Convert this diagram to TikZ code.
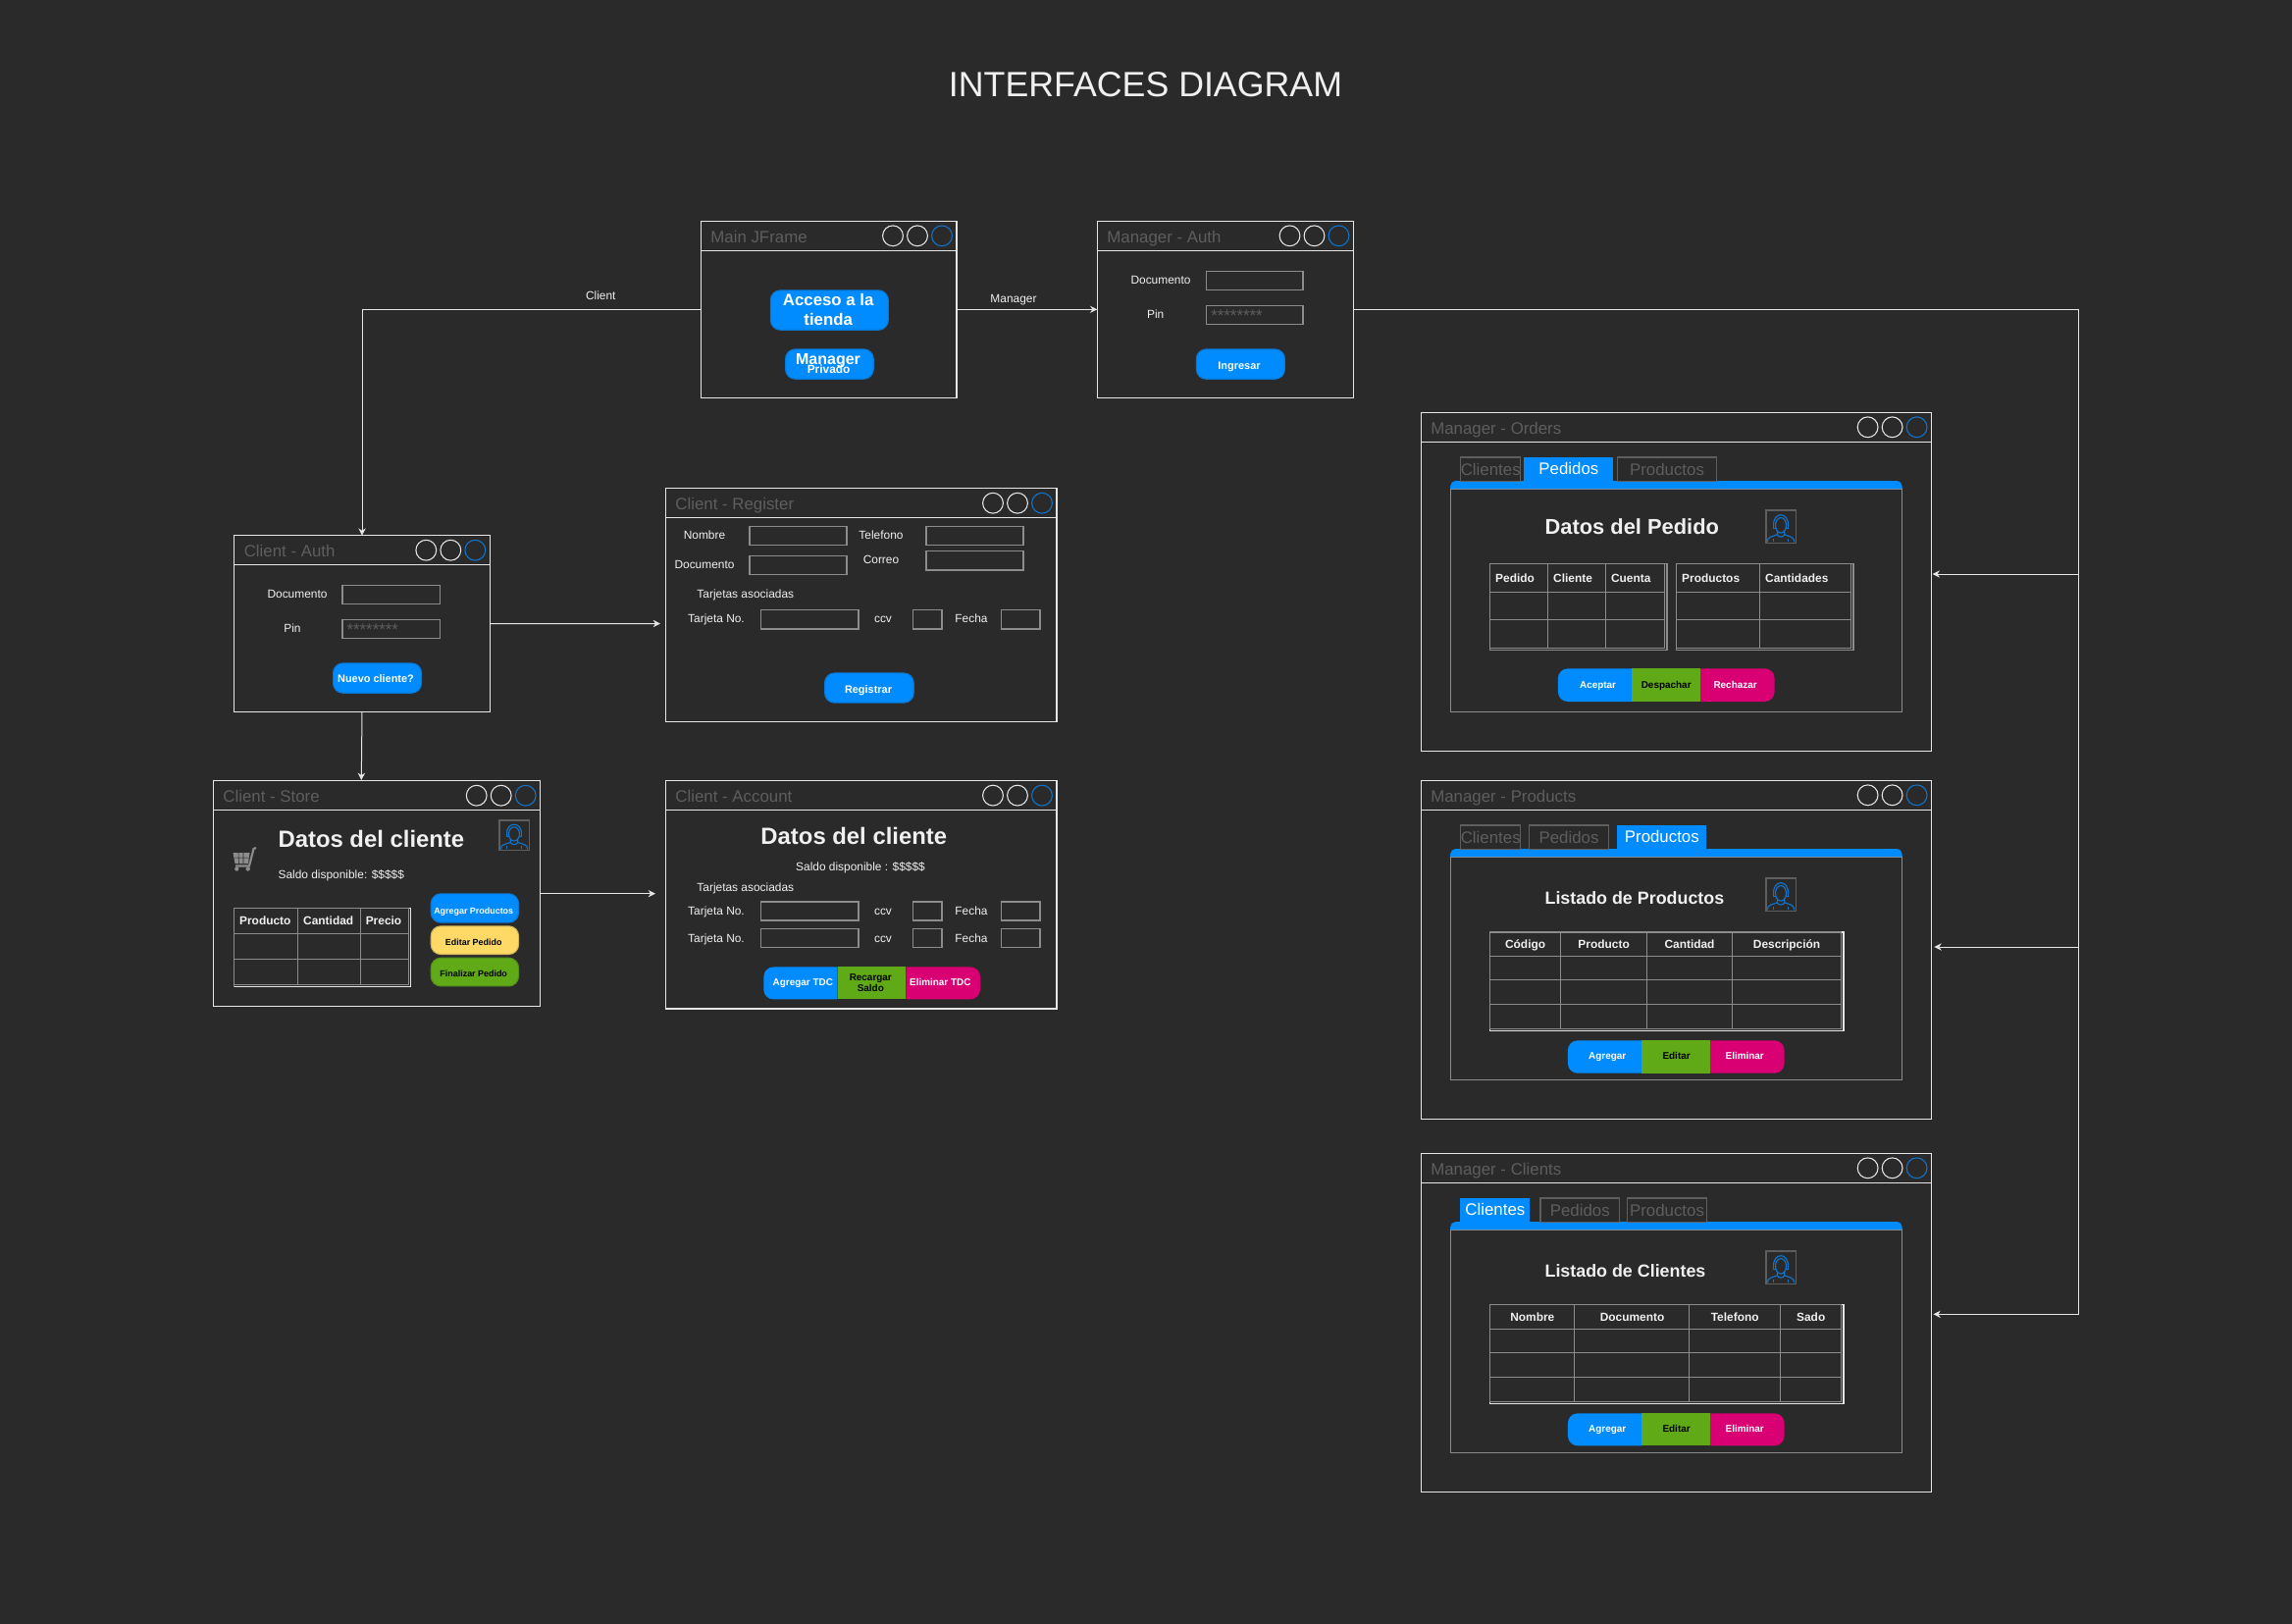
\documentclass[tikz,border=0pt]{standalone}
\usepackage{fontspec}
\setmainfont{Liberation Sans}
\usetikzlibrary{arrows.meta}

\definecolor{canvas}{HTML}{2A2A2A}
\definecolor{framecol}{HTML}{E6E6E6}
\definecolor{inputcol}{HTML}{8C8C8C}
\definecolor{dimcol}{HTML}{5E5E5E}
\definecolor{textcol}{HTML}{F0F0F0}
\definecolor{ringcol}{HTML}{1174CC}
\definecolor{btnblue}{HTML}{008CFF}
\definecolor{btngreen}{HTML}{60A917}
\definecolor{btnpink}{HTML}{D80073}
\definecolor{btnyellow}{HTML}{FFD966}

\newcommand{\fsz}[1]{\fontsize{#1}{#1}\selectfont}

\tikzset{
  sized/.style={anchor=base, inner sep=0pt, yshift=-#1*0.35pt, font=\fsz{#1}},
  sizedwest/.style={anchor=base west, inner sep=0pt, yshift=-#1*0.35pt, font=\fsz{#1}},
  winbox/.style={draw=framecol, line width=1pt, anchor=north west, inner sep=0pt, outer sep=0pt},
  wintitle/.style={sizedwest=12.64, text=dimcol},
  ctrl/.style={circle, draw=framecol, line width=0.8pt, minimum size=15.6pt, inner sep=0pt},
  ringed/.style={draw=ringcol},
  flow/.style={draw=framecol, line width=0.75pt, -{Stealth[length=5.5pt,width=5.5pt]}},
  inputbox/.style={draw=inputcol, line width=0.95pt, anchor=north west, inner sep=0pt, yshift=-0.5pt, minimum width=#1*0.75pt-1pt, minimum height=14.3pt},
  lbl/.style={sized=8.94, text=textcol},
  lblwest/.style={sizedwest=8.94, text=textcol},
  hdr/.style={lbl, font=\fsz{8.94}\bfseries},
  hdrwest/.style={lblwest, font=\fsz{8.94}\bfseries},
  mask/.style={anchor=base west, inner sep=0pt, text=dimcol, font=\fsz{12.64}},
  tabcell/.style={anchor=north west, inner sep=0pt, minimum width=#1*0.75pt, minimum height=18.5pt, font=\fsz{12.64}},
  tabon/.style={tabcell=#1, fill=btnblue, text=white},
  taboff/.style={tabcell=#1, draw=dimcol, line width=0.9pt, text=dimcol},
  gridline/.style={draw=inputcol, line width=0.9pt},
  btnshape/.style={anchor=north west, inner sep=0pt, rounded corners=7.5pt, fill=#1, draw=#1!80!canvas, line width=0.8pt},
  btntext/.style={sized=#1, text=white, font=\fsz{#1}\bfseries},
  segtext/.style={sized=7.45, text=#1, font=\fsz{7.45}\bfseries},
}

\newcommand{\winframe}[6]{
  \node[winbox, minimum width=#4*0.75pt, minimum height=#5*0.75pt] (#1) at (#2,#3) {};
  \draw[draw=framecol, line width=0.9pt] (#2,{#3+30}) -- ({#2+#4},{#3+30});
  \node[wintitle] (#1title) at ({#2+9.8},{#3+16}) {#6};
  \node[ctrl] (#1min) at ({#2+#4-65},{#3+15}) {};
  \node[ctrl] (#1max) at ({#2+#4-40},{#3+15}) {};
  \node[ctrl, ringed] (#1close) at ({#2+#4-15},{#3+15}) {};
}

\newcommand{\pushbtn}[9]{
  \node[btnshape=#6, minimum width=#4*0.75pt, minimum height=#5*0.75pt] (#1) at (#2,#3) {};
  \node[btntext=8.2] (#1txt) at (#7,#8) {#9};
}

\newcommand{\gridtable}[7]{
  \draw[draw=#7, line width=0.9pt] (#1,#2) rectangle (#3,#4);
  \foreach \cx in {#5} \draw[gridline] (\cx,#2) -- (\cx,{#4-2});
  \foreach \ry in {#6} \draw[gridline] (#1,\ry) -- ({#3-2},\ry);
  \draw[gridline] (#1,#2) -- ({#3-2},#2);
}

\newcommand{\segbar}[6]{
  \fill[btnblue] (#2,#5) [rounded corners=7.5pt] -- (#1,#5) -- (#1,#6) [sharp corners] -- (#2,#6) -- cycle;
  \fill[btngreen] (#2,#5) rectangle (#3,#6);
  \fill[btnpink] (#3,#5) [rounded corners=7.5pt] -- (#4,#5) -- (#4,#6) [sharp corners] -- (#3,#6) -- cycle;
}

\newcommand{\tabpanel}[1]{
  \draw[draw=inputcol, line width=0.9pt] (1478.2,{#1+77.7}) rectangle (1938.6,{#1+305});
  \fill[btnblue] (1478.2,{#1+77.7}) [rounded corners=4pt] -- (1478.2,{#1+69.7}) -- (1938.6,{#1+69.7}) [sharp corners] -- (1938.6,{#1+77.7}) -- cycle;
}

\newcommand{\usericon}[4]{
  \node[anchor=north west, draw=dimcol, line width=0.9pt, inner sep=0pt, minimum width=23pt, minimum height=#4*0.75pt] (#1) at (#2,#3) {};
  \begin{scope}[shift={(#2,#3)}, yscale=#4/33.4, draw=ringcol, line width=0.85pt]
    \draw (15.7,16) ellipse [x radius=5.5, y radius=7.8];
    \draw (8.3,17) .. controls (7,1.5) and (24.4,1.5) .. (23.1,17);
    \draw (9,13) -- (8,13) -- (8,19) -- (10.3,19);
    \draw (22.4,13) -- (23.4,13) -- (23.4,19) -- (21.1,19);
    \draw (2,33) .. controls (2,27.5) and (7,27.5) .. (12,25.5) -- (12,22.5);
    \draw (29.4,33) .. controls (29.4,27.5) and (24.4,27.5) .. (19.4,25.5) -- (19.4,22.5);
    \draw (12,25.5) .. controls (13,28.5) and (18.4,28.5) .. (19.4,25.5);
    \draw (8,33) -- (8,29.5) (23.4,33) -- (23.4,29.5);
  \end{scope}
}

\begin{document}
\begin{tikzpicture}[x=0.75pt, y=-0.75pt]
  \path[use as bounding box] (0,0) rectangle (2336,1654);
  \fill[canvas] (-6,-6) rectangle (2342,1660);
  \node[sized=26.8, text=textcol] (diagramtitle) at (1167.5,86) {INTERFACES DIAGRAM};

  \winframe{mainframe}{714.3}{225.3}{260.7}{180}{Main JFrame}
  \node[btnshape=btnblue, minimum width=90pt, minimum height=30.3pt] (accessbtn) at (784.8,295.3) {};
  \node[anchor=center, inner sep=0pt, align=center, text=white, font=\fontsize{12.6}{14.7}\selectfont\bfseries] (accesstxt) at (844.2,315.5) {Acceso a la\\tienda};
  \node[btnshape=btnblue, minimum width=67.3pt, minimum height=22.8pt] (managerbtn) at (800,355.3) {};
  \node[btntext=12] (managertxt) at (844,366) {Manager};
  \node[btntext=8.94] (privatetxt) at (844.6,376.7) {Privado};

  \winframe{managerauth}{1118.3}{225.3}{261.2}{180}{Manager - Auth}
  \node[lbl] (madoclbl) at (1183,285.7) {Documento};
  \node[inputbox=100] (madoc) at (1228.6,275.3) {};
  \node[lbl] (mapinlbl) at (1177.7,320.7) {Pin};
  \node[inputbox=100] (mapin) at (1228.6,310.3) {};
  \node[mask] (mapinmask) at (1234,327.5) {********};
  \pushbtn{ingresarbtn}{1218.8}{355.3}{90.1}{30.4}{btnblue}{1263}{372.3}{Ingresar}

  \winframe{clientauth}{238.7}{545.7}{260.6}{179.6}{Client - Auth}
  \node[lbl] (cadoclbl) at (303,605.7) {Documento};
  \node[inputbox=100.7] (cadoc) at (348.3,595.3) {};
  \node[lbl] (capinlbl) at (298,640.7) {Pin};
  \node[inputbox=100.7] (capin) at (348.3,630.3) {};
  \node[mask] (capinmask) at (353.3,647.5) {********};
  \pushbtn{nuevobtn}{339}{675.3}{90}{30.4}{btnblue}{383}{692}{Nuevo cliente?}

  \winframe{register}{678.3}{497.7}{398.7}{237.6}{Client - Register}
  \node[lbl] (nombrelbl) at (718,545.4) {Nombre};
  \node[inputbox=100.4] (nombrebox) at (763.3,535.3) {};
  \node[lbl] (telefonolbl) at (898,545.4) {Telefono};
  \node[inputbox=100.4] (telefonobox) at (943.3,535.3) {};
  \node[lbl] (documentolbl) at (718,575.6) {Documento};
  \node[inputbox=100.4] (documentobox) at (763.3,565.4) {};
  \node[lbl] (correolbl) at (898,570.7) {Correo};
  \node[inputbox=100.4] (correobox) at (943.3,560.5) {};
  \node[lbl] (reglinkedlbl) at (759.8,605.8) {Tarjetas asociadas};
  \node[lbl] (regcardlbl) at (730,630.7) {Tarjeta No.};
  \node[inputbox=101] (regcard) at (774.7,620.5) {};
  \node[lbl] (regccvlbl) at (900,630.7) {ccv};
  \node[inputbox=30.7] (regccv) at (930,620.5) {};
  \node[lbl] (regdatelbl) at (990,630.7) {Fecha};
  \node[inputbox=40.7] (regdate) at (1020,620.5) {};
  \pushbtn{registrarbtn}{840}{685.4}{90.7}{30.2}{btnblue}{885}{702.3}{Registrar}

  \winframe{clientstore}{217.3}{795.7}{333.4}{230}{Client - Store}
  \fill[inputcol] (237.5,869) -- (254.5,869) -- (253,880) -- (239.5,880) -- cycle;
  \draw[canvas, line width=0.4pt] (243,869) -- (243.5,880) (248,869) -- (248,880) (238.5,874) -- (254,874);
  \draw[inputcol, line width=1.6pt] (240,882.5) -- (254,882.5) -- (258.5,865) -- (261,864);
  \fill[inputcol] (241.3,885.5) circle [radius=2.2];
  \fill[inputcol] (252.7,885.5) circle [radius=2.2];
  \node[sizedwest=17.9, text=textcol, font=\fsz{17.9}\bfseries] (storehead) at (283.3,855) {Datos del cliente};
  \node[lblwest] (storesaldo) at (283.3,891.7) {Saldo disponible: \$\$\$\$\$};
  \usericon{storeuser}{508.3}{835.3}{30.4}
  \gridtable{238.7}{925.3}{418.7}{1005.7}{303.7,367.3,416.7}{951.3,977.3,1003.3}{framecol}
  \draw[gridline] (238.7,925.3) -- (238.7,1005.7);
  \node[hdr] (storecol1) at (270.3,938.7) {Producto};
  \node[hdr] (storecol2) at (334.7,938.7) {Cantidad};
  \node[hdr] (storecol3) at (391,938.7) {Precio};
  \node[btnshape=btnblue, minimum width=67pt, minimum height=22pt] (addbtn) at (438.7,910.3) {};
  \node[btntext=6.7] (addtxt) at (482.7,928) {Agregar Productos};
  \node[btnshape=btnyellow, minimum width=67pt, minimum height=21.5pt] (editbtn) at (438.7,943.3) {};
  \node[btntext=6.7, text=black] (edittxt) at (482.7,960.7) {Editar Pedido};
  \node[btnshape=btngreen, minimum width=67pt, minimum height=21.5pt] (finishbtn) at (438.7,975.7) {};
  \node[btntext=6.7, text=black] (finishtxt) at (482.7,992.7) {Finalizar Pedido};

  \winframe{clientaccount}{678.3}{795.6}{398.7}{232.3}{Client - Account}
  \node[sized=17.9, text=textcol, font=\fsz{17.9}\bfseries] (accounthead) at (870.3,852.5) {Datos del cliente};
  \node[lbl] (accountsaldo) at (877,883.7) {Saldo disponible : \$\$\$\$\$};
  \node[lbl] (acclinkedlbl) at (759.8,904) {Tarjetas asociadas};
  \foreach \i/\ty/\tb in {1/928.6/917.7, 2/956/945.4} {
    \node[lbl] (acccardlbl\i) at (730,\ty) {Tarjeta No.};
    \node[inputbox=101] (acccard\i) at (774.7,\tb) {};
    \node[lbl] (accccvlbl\i) at (900,\ty) {ccv};
    \node[inputbox=30.7] (accccv\i) at (930,\tb) {};
    \node[lbl] (accdatelbl\i) at (990,\ty) {Fecha};
    \node[inputbox=40.7] (accdate\i) at (1020,\tb) {};
  }
  \segbar{778.3}{853.7}{923.3}{999}{985.4}{1018.4}
  \node[segtext=white] (tdcadd) at (818.3,1001.2) {Agregar TDC};
  \node[anchor=center, inner sep=0pt, align=center, text=black, font=\fontsize{7.45}{8.55}\selectfont\bfseries] (tdccharge) at (887.3,1001.6) {Recargar\\Saldo};
  \node[segtext=white] (tdcdel) at (958.3,1001.2) {Eliminar TDC};

  \winframe{orders}{1448.2}{420.3}{520.4}{345}{Manager - Orders}
  \tabpanel{420.3}
  \node[taboff=60.4] (ordtab1) at (1488.2,465.3) {Clientes};
  \node[tabon=90.8] (ordtab2) at (1553.2,465.3) {Pedidos};
  \node[taboff=100.4] (ordtab3) at (1648.2,465.3) {Productos};
  \node[sizedwest=16.4, text=textcol, font=\fsz{16.4}\bfseries] (ordhead) at (1574.3,536.7) {Datos del Pedido};
  \usericon{orduser}{1799.3}{519.3}{33.4}
  \gridtable{1518.2}{574.7}{1699}{662.3}{1518.2,1577.5,1636.4,1696.8}{603.3,631.3,660.3}{inputcol}
  \gridtable{1708.2}{574.7}{1889}{662.3}{1708.2,1793.2,1886.8}{603.3,631.3,660.3}{inputcol}
  \foreach \i/\cx/\txt in {1/1523.9/Pedido, 2/1582.9/Cliente, 3/1641.8/Cuenta, 4/1713.9/Productos, 5/1798.9/Cantidades}
    \node[hdrwest] (ordcol\i) at (\cx,589.7) {\txt};
  \segbar{1587.9}{1663.2}{1733.2}{1808.6}{681.3}{715}
  \node[segtext=white] (ordok) at (1628.6,698.3) {Aceptar};
  \node[segtext=black] (ordship) at (1698.2,698.3) {Despachar};
  \node[segtext=white] (ordno) at (1768.6,698.3) {Rechazar};

  \winframe{products}{1448.2}{795.3}{520.4}{345}{Manager - Products}
  \tabpanel{795.3}
  \node[taboff=60.4] (prodtab1) at (1488.2,840.3) {Clientes};
  \node[taboff=80.4] (prodtab2) at (1558.2,840.3) {Pedidos};
  \node[tabon=90.7] (prodtab3) at (1648.2,840.3) {Productos};
  \node[sizedwest=13.4, text=textcol, font=\fsz{13.4}\bfseries] (prodhead) at (1574.3,915.7) {Listado de Productos};
  \usericon{produser}{1799.3}{894.3}{33.4}
  \gridtable{1518.2}{950}{1879}{1050.3}{1518.2,1590.4,1678.2,1765.4,1876.8}{974.3,998.3,1023.3,1048.3}{framecol}
  \foreach \i/\cx/\txt in {1/1554.6/Código, 2/1634.6/Producto, 3/1722/Cantidad, 4/1821/Descripción}
    \node[hdr] (prodcol\i) at (\cx,962.7) {\txt};
  \segbar{1597.9}{1673.2}{1743.2}{1818.6}{1060.3}{1093.7}
  \node[segtext=white] (prodadd) at (1638.2,1076.3) {Agregar};
  \node[segtext=black] (prodedit) at (1708.6,1076.3) {Editar};
  \node[segtext=white] (proddel) at (1778.2,1076.3) {Eliminar};

  \winframe{clients}{1448.2}{1175.3}{520.4}{345}{Manager - Clients}
  \tabpanel{1175.3}
  \node[tabon=70.8] (clitab1) at (1488.2,1220.3) {Clientes};
  \node[taboff=80.7] (clitab2) at (1569.3,1220.3) {Pedidos};
  \node[taboff=80.4] (clitab3) at (1658.2,1220.3) {Productos};
  \node[sizedwest=13.4, text=textcol, font=\fsz{13.4}\bfseries] (clihead) at (1574.3,1295.7) {Listado de Clientes};
  \usericon{cliuser}{1799.3}{1274.3}{33.4}
  \gridtable{1518.2}{1329.7}{1879}{1430.3}{1518.2,1604.6,1721.4,1814.6,1876.8}{1354.3,1378.3,1403.3,1428.3}{framecol}
  \foreach \i/\cx/\txt in {1/1561.8/Nombre, 2/1663.6/Documento, 3/1768.2/Telefono, 4/1845.7/Sado}
    \node[hdr] (clicol\i) at (\cx,1342.7) {\txt};
  \segbar{1597.9}{1673.2}{1743.2}{1818.6}{1440.3}{1473.3}
  \node[segtext=white] (cliadd) at (1638.2,1456.3) {Agregar};
  \node[segtext=black] (cliedit) at (1708.6,1456.3) {Editar};
  \node[segtext=white] (clidel) at (1778.2,1456.3) {Eliminar};

  \coordinate (registerin) at (673,635.5);
  \coordinate (accountin) at (668,910.7);
  \coordinate (storein) at (368.3,795);
  \coordinate (ordersin) at (1969.6,585);
  \coordinate (productsin) at (1971.4,965);
  \coordinate (clientsin) at (1970.4,1339.3);
  \coordinate (bustop) at (2118.6,315.3);

  \draw[flow] (mainframe.west) -| (clientauth.north);
  \node[lbl] (clientlbl) at (612.3,301) {Client};
  \draw[flow] (mainframe.east) -- (managerauth.west);
  \node[lbl] (managerlbl) at (1033,304) {Manager};
  \draw[flow] (clientauth.east) -- (registerin);
  \draw[flow] (clientauth.south) -- (storein);
  \draw[flow] (clientstore.east) -- (accountin);
  \draw[flow] (managerauth.east) -- (bustop) |- (ordersin);
  \draw[flow] (managerauth.east) -- (bustop) |- (productsin);
  \draw[flow] (managerauth.east) -- (bustop) |- (clientsin);
\end{tikzpicture}
\end{document}
